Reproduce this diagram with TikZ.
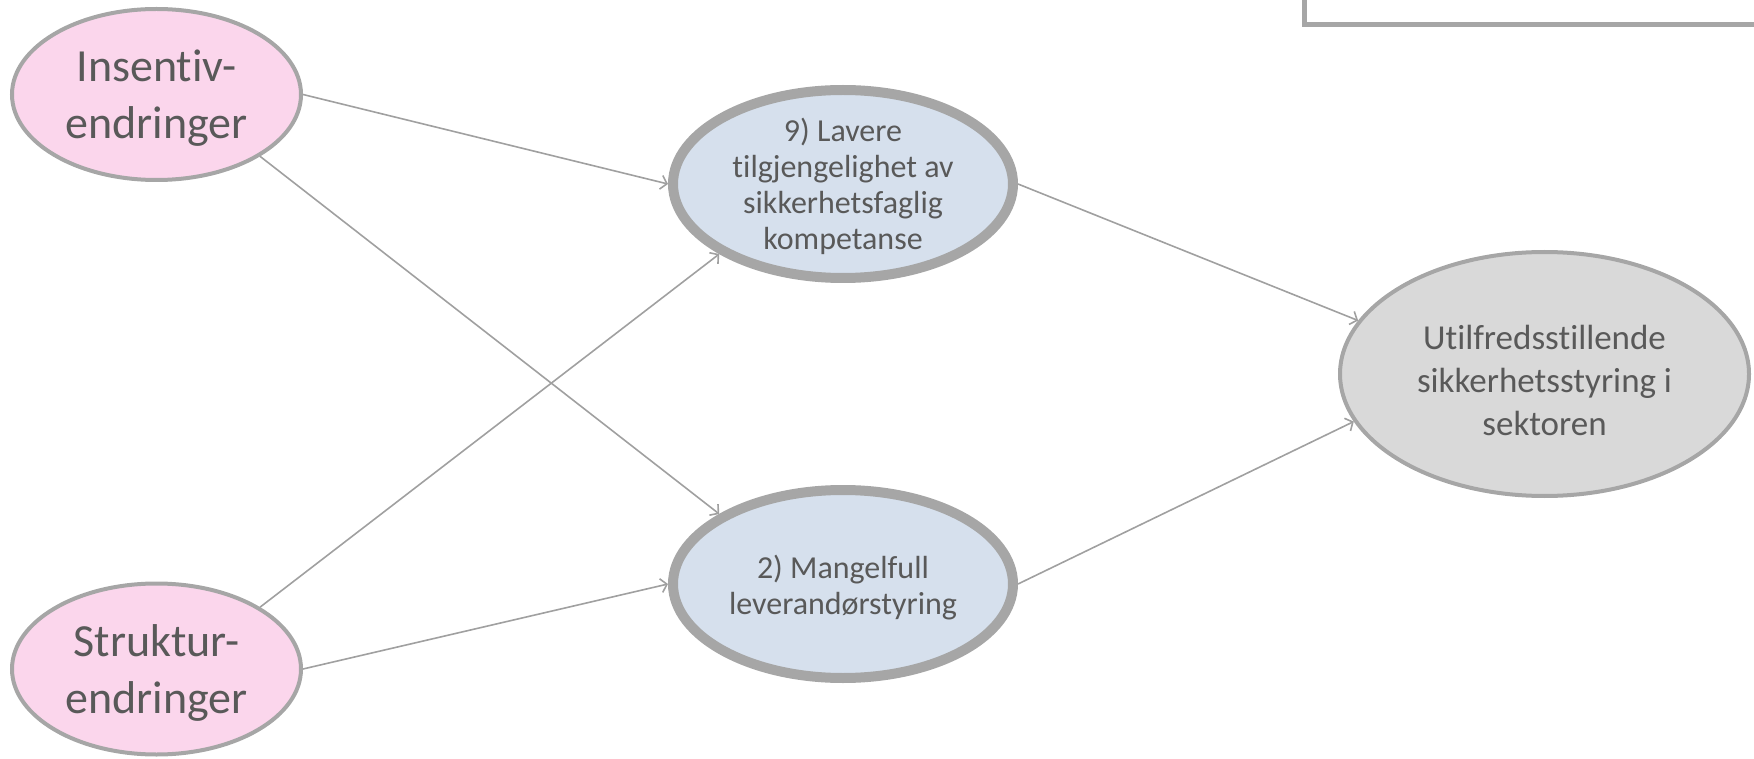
\documentclass[tikz,border=0pt]{standalone}
\usepackage{fontspec}
\setmainfont{Carlito}[Ligatures=CommonOff]
\usepackage{tikz}
\usetikzlibrary{shapes.geometric}
\usetikzlibrary{arrows.meta}
\definecolor{rimgray}{RGB}{166,166,166}
\definecolor{linegray}{RGB}{160,160,160}
\definecolor{txtgray}{RGB}{89,89,89}
\definecolor{pinkfill}{RGB}{251,214,236}
\definecolor{bluefill}{RGB}{214,224,237}
\definecolor{grayfill}{RGB}{217,217,217}
\tikzset{% 
    cause/.style={ellipse,draw=rimgray,line width=4pt,fill=pinkfill,inner sep=0pt,
        minimum width=289pt,minimum height=171pt},
    risk/.style={ellipse,draw=rimgray,line width=10pt,fill=bluefill,inner sep=0pt,
        minimum width=340pt,minimum height=188pt},
    outcome/.style={ellipse,draw=rimgray,line width=4pt,fill=grayfill,inner sep=0pt,
        minimum width=409pt,minimum height=244pt},
    txt/.style={text=txtgray,align=center}
}

\begin{document}
\begin{tikzpicture}[
                x=1pt,y=-1pt,
                conn/.style={draw=linegray,line width=1.6pt,-{Straight Barb[length=6pt,width=14pt]}}
            ]
            \useasboundingbox (0,0) rectangle (1754,759);
            \clip (0,0) rectangle (1754,759);
            \draw[rimgray,line width=5pt] (1304,-20) rectangle (1790,25);

            \node[cause,label={[txt,font=\fontsize{46}{57}\selectfont,yshift=-4pt]center:{Insentiv-\\endringer}}] (ins) at (156.5,94.5){};
            \node[cause,label={[txt,font=\fontsize{46}{57}\selectfont,yshift=-4pt]center:{Struktur-\\endringer}}] (str) at (156.5,669){};
            \node[risk,label={[txt,font=\fontsize{32}{36}\selectfont,yshift=-2pt]center:{9) Lavere\\tilgjengelighet av\\sikkerhetsfaglig\\kompetanse}}] (lav) at (843,184){};
            \node[risk,label={[txt,font=\fontsize{32}{36}\selectfont,yshift=-4pt]center:{2) Mangelfull\\leverandørstyring}}] (lev) at (843,584){};
            \node[outcome,label={[txt,font=\fontsize{35}{43}\selectfont,yshift=-6pt]center:{Utilfredsstillende\\sikkerhetsstyring i\\sektoren}}] (utf) at (1544.5,374){};

            \draw[conn] (ins.east) -- (lav.west);
            \draw[conn] (ins.south east) -- (lev.north west);
            \draw[conn] (str.north east) -- (lav.south west);
            \draw[conn] (str.east) -- (lev.west);
            \draw[conn] (lav.east) -- (utf.164);
            \draw[conn] (lev.east) -- (utf.194);
        \end{tikzpicture}
\end{document}
